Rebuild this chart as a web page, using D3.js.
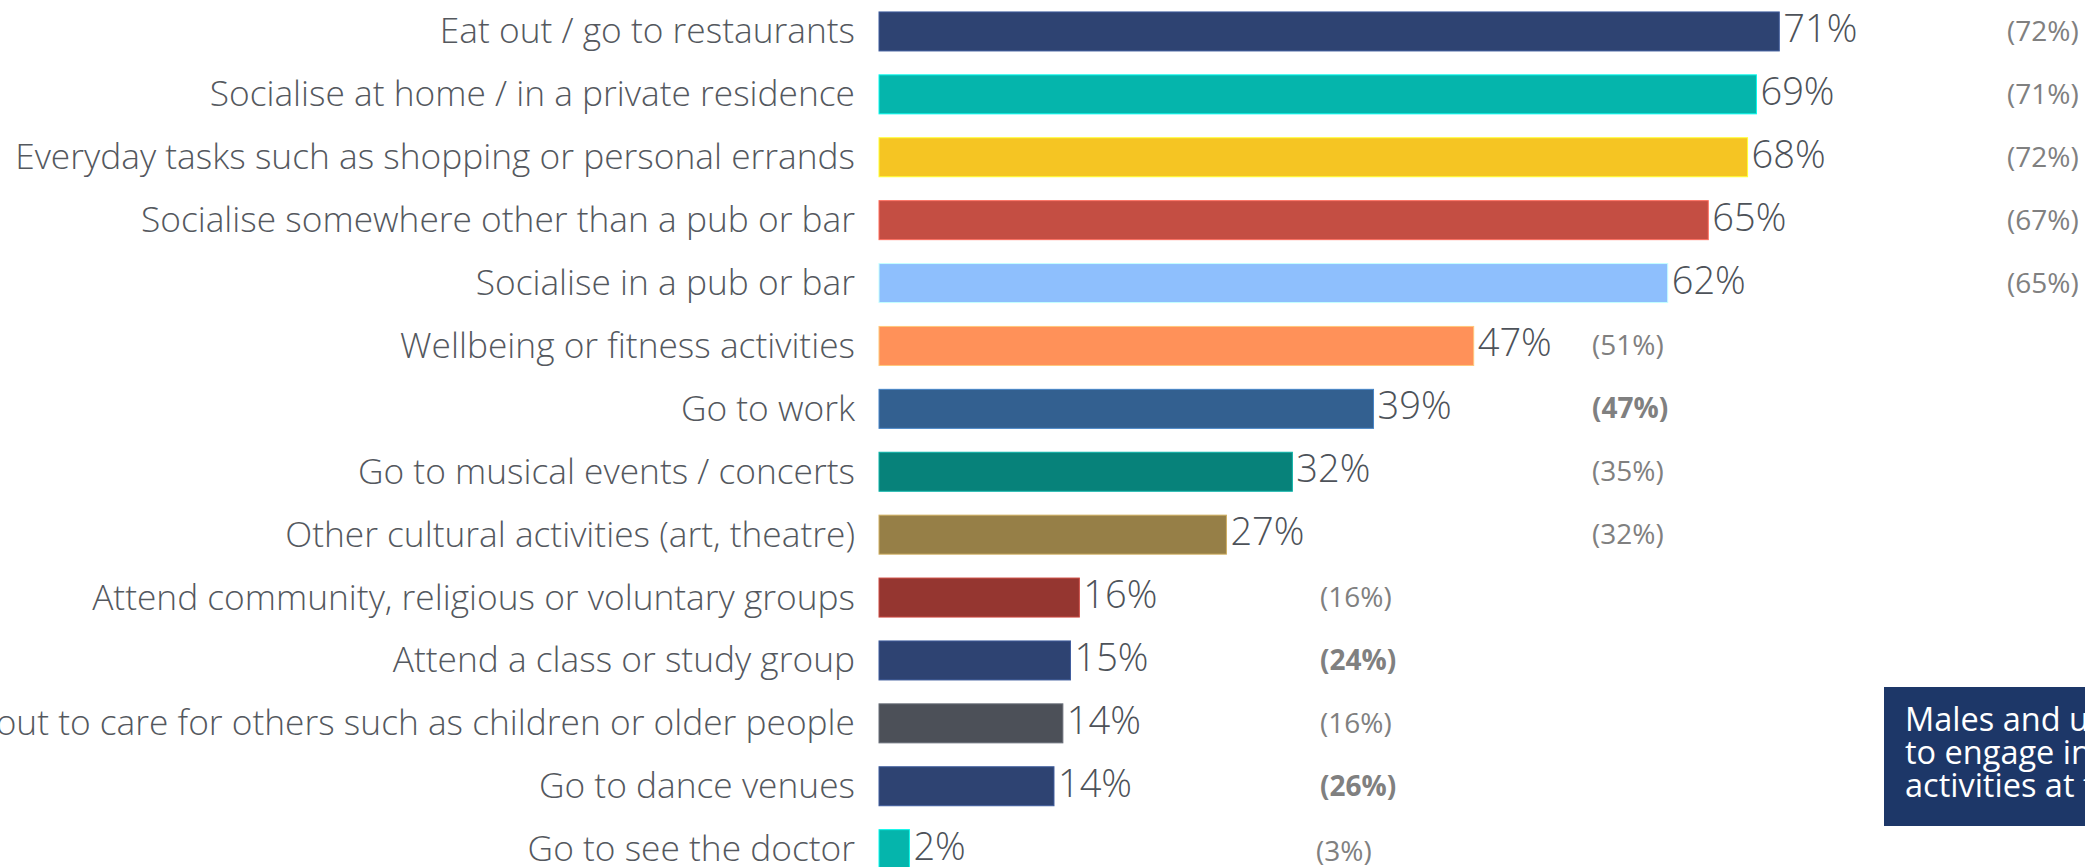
<!DOCTYPE html>
<html>
<head>
<meta charset="utf-8">
<script src="https://cdn.jsdelivr.net/npm/d3@7"></script>
<style>
  html, body { margin: 0; padding: 0; background: #fff; overflow: hidden; }
  svg { display: block; font-family: "Open Sans", sans-serif; }
</style>
</head>
<body>
<svg id="chart" width="2085" height="867"></svg>
<script>
// activities, current share (bar length) and labels
var categories = [
    "Eat out / go to restaurants",
    "Socialise at home / in a private residence",
    "Everyday tasks such as shopping or personal errands",
    "Socialise somewhere other than a pub or bar",
    "Socialise in a pub or bar",
    "Wellbeing or fitness activities",
    "Go to work",
    "Go to musical events / concerts",
    "Other cultural activities (art, theatre)",
    "Attend community, religious or voluntary groups",
    "Attend a class or study group",
    "Go out to care for others such as children or older people",
    "Go to dance venues",
    "Go to see the doctor"
];
var values = [71.0, 69.2, 68.5, 65.4, 62.2, 46.9, 39.0, 32.6, 27.4, 15.8, 15.1, 14.5, 13.8, 2.4];
var valueLabels = ["71%", "69%", "68%", "65%", "62%", "47%", "39%", "32%", "27%", "16%", "15%", "14%", "14%", "2%"];
// comparison figures in brackets, bold = notable difference
var compareLabels = ["(72%)", "(71%)", "(72%)", "(67%)", "(65%)", "(51%)", "(47%)", "(35%)", "(32%)", "(16%)", "(24%)", "(16%)", "(26%)", "(3%)"];
var compareBold = [false, false, false, false, false, false, true, false, false, false, true, false, true, false];
var compareCol = [0, 0, 0, 0, 0, 1, 1, 1, 1, 2, 2, 2, 2, 3];
var barColors = ["#2e4372", "#05b5ac", "#f5c523", "#c44e43", "#8ebffd", "#ff9159", "#336090", "#07827a",
                 "#967f47", "#953630", "#2e4372", "#4c5058", "#2e4372", "#05b5ac"];
var noteLines = ["Males and under 35s are more likely", "to engage in these", "activities at the moment"];

var svg = d3.select("#chart");

var x = d3.scaleLinear().domain([0, 100]).range([879, 2147]);
var y = d3.scaleBand().domain(categories).range([0, 880.6]).paddingInner(0.38).paddingOuter(0.19);
var compareX = d3.scaleOrdinal().domain([0, 1, 2, 3]).range([2007, 1592, 1320, 1316]);

var rows = svg.selectAll(".row")
    .data(categories)
    .join("g")
    .attr("class", "row");

rows.append("rect")
    .attr("x", x(0))
    .attr("y", d => y(d))
    .attr("width", (d, i) => x(values[i]) - x(0))
    .attr("height", y.bandwidth())
    .attr("fill", (d, i) => barColors[i])
    .attr("stroke", (d, i) => d3.color(barColors[i]).brighter(0.9))
    .attr("stroke-width", 1);

rows.append("text")
    .attr("x", 855)
    .attr("y", d => y(d) + y.bandwidth() / 2 + 12)
    .attr("text-anchor", "end")
    .attr("font-size", 35.3)
    .attr("font-weight", 300)
    .attr("fill", "#54585e")
    .text(d => d);

rows.append("text")
    .attr("x", (d, i) => x(values[i]) + 4)
    .attr("y", d => y(d) + y.bandwidth() / 2 + 10.5)
    .attr("font-size", 38)
    .attr("font-weight", 300)
    .attr("fill", "#4d5259")
    .text((d, i) => valueLabels[i]);

rows.append("text")
    .attr("x", (d, i) => compareX(compareCol[i]))
    .attr("y", (d, i) => y(d) + y.bandwidth() / 2 + 9.5 + (i == 13 ? 2 : 0))
    .attr("font-size", 28)
    .attr("font-weight", (d, i) => compareBold[i] ? 700 : 400)
    .attr("fill", "#808080")
    .text((d, i) => compareLabels[i]);

// note box on the right (runs off the page edge)
var note = svg.append("g");
note.append("rect")
    .attr("x", 1884)
    .attr("y", 687)
    .attr("width", 400)
    .attr("height", 139)
    .attr("fill", "#1d3768");

note.selectAll("text")
    .data(noteLines)
    .join("text")
    .attr("x", 1905)
    .attr("y", (d, i) => 731 + i * 33)
    .attr("font-size", 32.5)
    .attr("fill", "#fff")
    .text(d => d);
</script>
</body>
</html>
